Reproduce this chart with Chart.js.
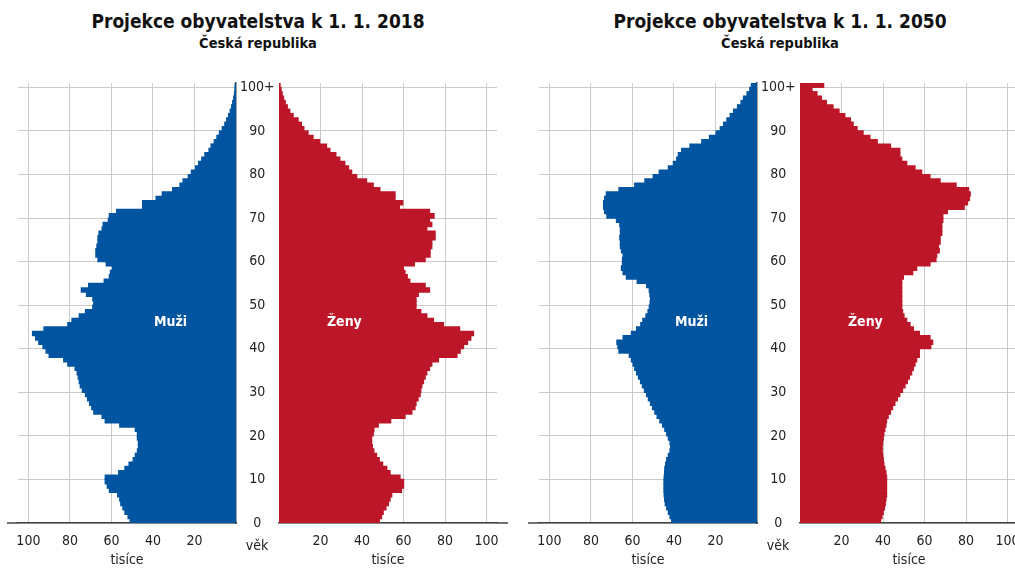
<!DOCTYPE html>
<html lang="cs">
<head>
<meta charset="utf-8">
<title>Projekce obyvatelstva</title>
<script src="https://cdn.jsdelivr.net/npm/chart.js@4.4.1/dist/chart.umd.min.js"></script>
<style>
html, body { margin: 0; padding: 0; width: 1015px; height: 569px; overflow: hidden; background: #fff; }
.nadpis { position: absolute; width: 500px; text-align: center; font-family: 'DejaVu Sans Condensed', 'DejaVu Sans', sans-serif; font-weight: bold; color: #111; white-space: nowrap; }
.t1 { font-size: 19px; line-height: 22px; top: 10px; }
.t2 { font-size: 14.5px; line-height: 17px; top: 35px; }
canvas { position: absolute; top: 0; }
</style>
</head>
<body>
<div class="nadpis t1" style="left:8px">Projekce obyvatelstva k 1. 1. 2018</div>
<div class="nadpis t2" style="left:8px">Česká republika</div>
<div class="nadpis t1" style="left:530px">Projekce obyvatelstva k 1. 1. 2050</div>
<div class="nadpis t2" style="left:530px">Česká republika</div>

<canvas id="muzi2018" width="280" height="569" style="left:0px"></canvas>
<canvas id="zeny2018" width="243" height="569" style="left:268px"></canvas>
<canvas id="muzi2050" width="280" height="569" style="left:521px"></canvas>
<canvas id="zeny2050" width="243" height="569" style="left:789px"></canvas>

<script>
// vek 0 .. 100+ (posledni skupina je 100 a vice)
const vek = Array.from({length: 101}, (_, i) => i);
const vekTicks = [0, 10, 20, 30, 40, 50, 60, 70, 80, 90, 100];
const tisiceTicks = [0, 20, 40, 60, 80, 100];

// pocty v tisicich (index = vek)
const muzi2018 = [
  51, 52, 53.5, 54.5, 55.5, 56, 57, 61, 62, 63,
  63, 56.5, 53.5, 51.5, 49.5, 48.5, 47.5, 47, 47, 47.5,
  47.5, 48.5, 56, 63, 64.5, 68.5, 69.5, 70.5, 71.5, 72.5,
  74, 75, 75.5, 76, 76.5, 77.5, 81, 83, 90, 91.5,
  93, 95, 96.5, 98, 92.5, 81, 79, 75.5, 72.5, 69,
  68.5, 69, 72, 74.5, 71, 63.5, 61, 60.5, 59.5, 62.5,
  66.5, 67.5, 67.5, 67, 66.5, 66.5, 66, 64.5, 64, 61.5,
  61, 57.5, 45, 45, 38.5, 35.5, 30.5, 27, 25.5, 23,
  21.5, 19.5, 18, 16.5, 15, 13, 12, 10.5, 9.2, 8,
  6.6, 5.4, 4.5, 3.6, 2.8, 2.1, 1.6, 1.1, 0.7, 0.5,
  0.4
];
const zeny2018 = [
  48.3, 49.4, 50.2, 51.5, 52.7, 53.5, 54.3, 59, 60, 60,
  58.3, 53.5, 51.9, 49.9, 48.3, 47, 45.7, 45, 44.6, 44.6,
  45.4, 45.7, 47.8, 53.8, 60.7, 64, 65.5, 66, 67, 68,
  68.3, 68.8, 69.6, 70.4, 71.2, 72.5, 73.6, 76.8, 85.7, 87.3,
  88.9, 90.8, 92.4, 93.7, 87, 79.2, 74.4, 71.2, 68.3, 66,
  66, 66, 67.1, 72.5, 70.4, 63, 61.8, 60.7, 59.9, 65.2,
  70.4, 72.8, 72.8, 73.6, 73.6, 75.2, 75.2, 71.2, 73.6, 72.5,
  74.7, 72.5, 58, 59.6, 55.9, 55.9, 48.6, 45.4, 42.2, 37.4,
  35, 33.5, 31.7, 29.3, 27.4, 24.5, 22.9, 19.6, 16.4, 14,
  12, 10.8, 9.2, 6.8, 5.2, 4, 3, 2.2, 1.5, 1,
  0.5
];
const muzi2050 = [
  41.1, 41.9, 42.7, 43.5, 44.2, 44.5, 44.7, 44.8, 44.8, 44.8,
  44.7, 44.5, 44.4, 44, 43.5, 42.7, 41.9, 41.6, 41.9, 42.7,
  43.5, 44.4, 45.5, 46.8, 48.1, 49.2, 50.3, 51.3, 52.3, 53.2,
  54.2, 55.2, 56.1, 57.1, 58, 58.9, 59.7, 60.5, 61.5, 66.5,
  67, 67.5, 64.5, 60.5, 58, 56, 55, 53.5, 52.5, 51.9,
  51.5, 51.3, 51.6, 51.9, 53.2, 57.7, 62.9, 64.5, 65.3, 64.8,
  64.8, 64.5, 65.3, 65.8, 65.8, 66.1, 65.8, 65.8, 66.1, 67.7,
  72.3, 73.4, 73.9, 73.9, 73.4, 72.6, 66.5, 58.9, 54, 50,
  47.1, 42.7, 40.3, 38.7, 37.9, 36.3, 32.3, 26.6, 22.9, 19.7,
  17.7, 16.1, 14.5, 12.9, 11.3, 9.4, 7.7, 6.5, 4.8, 3.5,
  2.7
];
const zeny2050 = [
  38.8, 39.5, 40.1, 40.7, 41.1, 41.4, 41.7, 41.7, 41.7, 41.7,
  41.7, 41.4, 40.9, 40.4, 40.1, 39.8, 39.6, 39.6, 39.8, 40.1,
  40.4, 40.9, 41.4, 41.7, 42.5, 43.6, 44.6, 45.7, 46.9, 48.1,
  49.4, 50.6, 51.7, 52.7, 53.8, 54.6, 55.4, 56.2, 57.5, 57.5,
  63, 63.9, 62.6, 57.5, 54.6, 53, 51.4, 50.1, 49.4, 49,
  49, 49, 49, 49, 49, 49, 49.8, 54.3, 56.2, 62.6,
  65.5, 65.9, 67.1, 66.7, 67.5, 67.5, 68.3, 68.3, 68.3, 68.8,
  68.8, 71, 79.1, 80.7, 81.6, 82, 81.2, 75.2, 67.5, 62.6,
  58.6, 55.4, 51.4, 49, 48.1, 48.1, 43.6, 37.2, 33.7, 30.4,
  27.5, 25.6, 24.3, 21.6, 18.8, 15.9, 12.7, 10.3, 8.2, 5.8,
  11.4
];

const modra = '#0054a0';
const cervena = '#bd1628';
const mrizka = '#cbcbcb';
const osa = '#444444';
const pismo = "'DejaVu Sans Condensed', 'DejaVu Sans', sans-serif";

Chart.defaults.font.family = pismo;
Chart.defaults.font.size = 14;
Chart.defaults.color = '#222';

// popisek Muzi / Zeny, nazev osy "vek" a prodlouzeni zakladni cary
const popisek = {
  id: 'popisek',
  afterDatasetsDraw(chart, args, opts) {
    const {ctx, chartArea, scales: {x, y}} = chart;
    ctx.save();
    ctx.strokeStyle = osa;
    ctx.lineWidth = 1.5;
    ctx.beginPath();
    if (opts.muzi) {
      ctx.moveTo(chartArea.left - 11, chartArea.bottom);
      ctx.lineTo(chartArea.left, chartArea.bottom);
    } else {
      ctx.moveTo(chartArea.right, chartArea.bottom);
      ctx.lineTo(chartArea.right + 11, chartArea.bottom);
    }
    ctx.stroke();
    ctx.fillStyle = '#fff';
    ctx.font = 'bold 14px ' + pismo;
    ctx.textAlign = 'center';
    ctx.textBaseline = 'middle';
    ctx.fillText(opts.text, x.getPixelForValue(31.5), y.getPixelForValue(46));
    if (opts.muzi) {
      ctx.fillStyle = '#222';
      ctx.font = '14px ' + pismo;
      ctx.fillText('věk', (y.left + y.right) / 2, chartArea.bottom + 23);
    }
    ctx.restore();
  }
};

function pyramida(id, hodnoty, barva, text, muzi) {
  new Chart(document.getElementById(id), {
    type: 'bar',
    data: {
      datasets: [{
        label: text,
        data: vek.map((v, i) => ({x: hodnoty[i], y: v + 0.5})),
        backgroundColor: barva,
        borderWidth: 0,
        barPercentage: 1,
        categoryPercentage: 1,
        inflateAmount: 0.6
      }]
    },
    options: {
      indexAxis: 'y',
      responsive: false,
      animation: false,
      layout: {
        padding: muzi ? {left: 18, right: 2, top: 83, bottom: 0} : {left: 11, right: 14, top: 83, bottom: 0}
      },
      plugins: {
        legend: {display: false},
        tooltip: {enabled: false},
        popisek: {text: text, muzi: muzi}
      },
      scales: {
        x: {
          type: 'linear',
          reverse: muzi,
          min: 0,
          max: 105,
          afterBuildTicks: s => { s.ticks = tisiceTicks.map(v => ({value: v})); },
          afterFit: s => { s.height = 46; },
          ticks: {padding: 10, maxRotation: 0, autoSkip: false, callback: v => v === 0 ? '' : v},
          grid: {color: c => c.tick && c.tick.value === 0 ? 'rgba(0,0,0,0)' : mrizka, drawTicks: false},
          border: {color: osa, width: 1.5},
          title: {display: true, text: 'tisíce', padding: {top: 0, bottom: 0}}
        },
        y: {
          type: 'linear',
          min: 0,
          max: 101,
          offset: false,
          position: muzi ? 'right' : 'left',
          afterBuildTicks: s => { s.ticks = vekTicks.map(v => ({value: v})); },
          afterFit: s => { s.width = muzi ? 42 : 0; },
          ticks: {display: muzi, padding: 4, crossAlign: 'center', callback: v => v === 100 ? '100+' : v},
          grid: {color: mrizka, drawTicks: false, offset: false},
          border: {display: muzi, color: osa, width: 1.5}
        }
      }
    },
    plugins: [popisek]
  });
}

pyramida('muzi2018', muzi2018, modra, 'Muži', true);
pyramida('zeny2018', zeny2018, cervena, 'Ženy', false);
pyramida('muzi2050', muzi2050, modra, 'Muži', true);
pyramida('zeny2050', zeny2050, cervena, 'Ženy', false);
</script>
</body>
</html>
